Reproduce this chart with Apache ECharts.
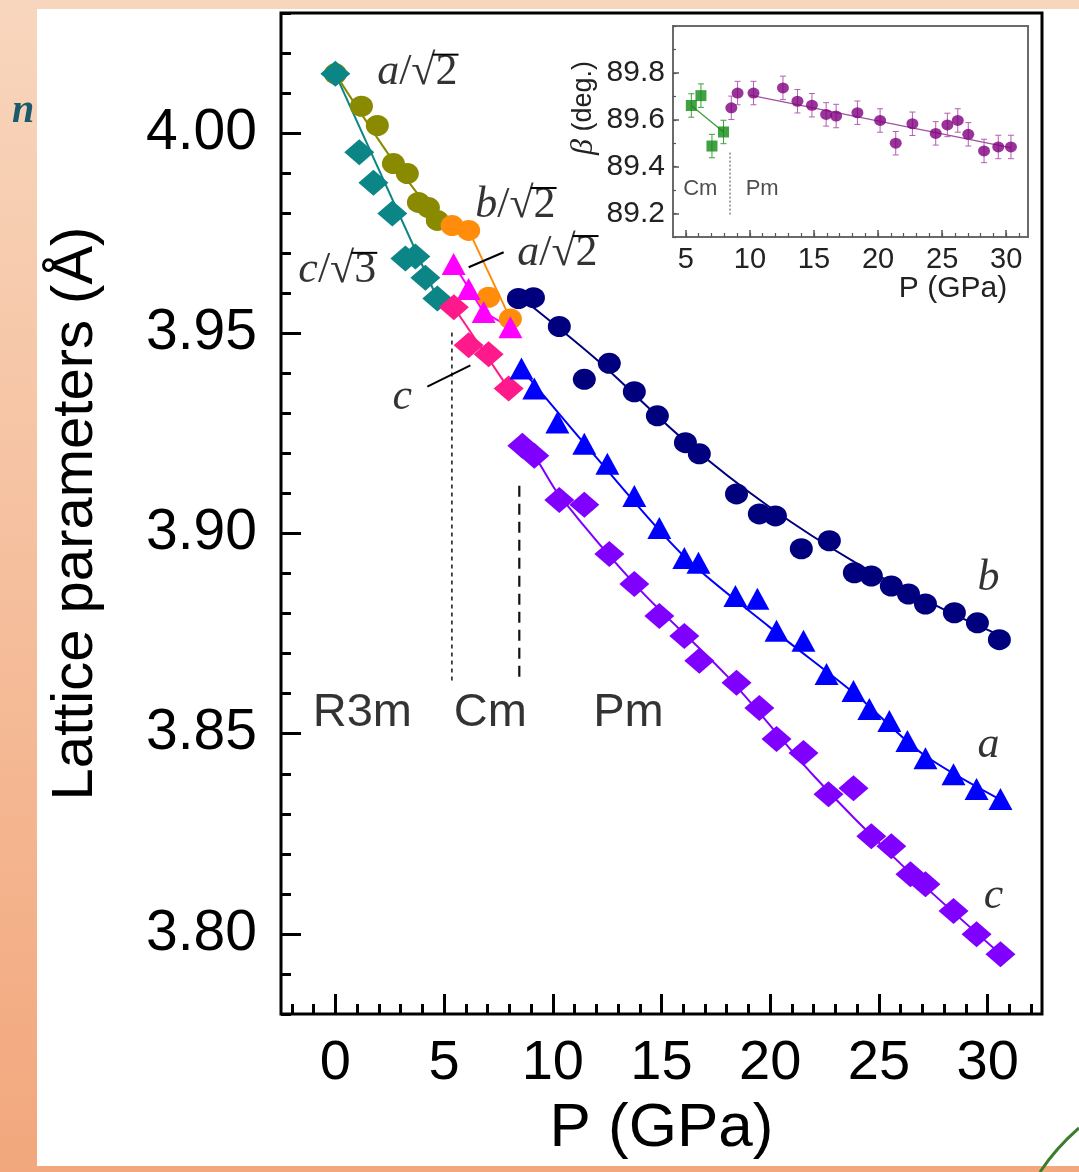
<!DOCTYPE html>
<html>
<head>
<meta charset="utf-8">
<title>Lattice parameters vs pressure</title>
<script src="https://cdn.jsdelivr.net/npm/echarts@6/dist/echarts.min.js"></script>
<style>
html, body { margin: 0; padding: 0; background: #fff; }
#chart { width: 1079px; height: 1172px; }
</style>
</head>
<body>
<div id="chart"></div>
<script>
// ---- main panel : lattice parameters (Å) vs P (GPa) ----

// R3m phase
const r3mC = [[0, 4.0148], [1.10, 3.9952], [1.75, 3.9876], [2.62, 3.9799], [3.22, 3.9687], [3.68, 3.9692], [4.14, 3.9639], [4.69, 3.9587]];
const r3mA = [[0, 4.0148], [1.20, 4.0067], [1.93, 4.0019], [2.67, 3.9924], [3.31, 3.9899], [3.82, 3.9827], [4.28, 3.9814], [4.69, 3.9782]];
const r3mCFit = [[0, 4.0148], [4.75, 3.9580]];
const r3mAFit = [[0, 4.0148], [2.6, 3.9935], [4.9, 3.9770]];

// Cm phase
const cmB = [[5.37, 3.9769], [6.13, 3.9757], [7.05, 3.9590], [8.05, 3.9536]];
const cmA = [[5.44, 3.9673], [6.13, 3.9611], [6.82, 3.9553], [8.05, 3.9515]];
const cmC = [[5.45, 3.9565], [6.13, 3.9470], [7.05, 3.9448], [7.97, 3.9362]];
const cmBFit = [[5.37, 3.9769], [6.13, 3.9757], [8.05, 3.9536]];
const cmAFit = [[5.44, 3.9673], [6.82, 3.9553], [8.05, 3.9515]];
const cmCFit = [[5.45, 3.9565], [7.97, 3.9362]];

// Pm phase
const pmB = [[8.42, 3.9587], [9.11, 3.9589], [10.30, 3.9517], [11.45, 3.9385], [12.60, 3.9425], [13.75, 3.9354],
  [14.81, 3.9294], [16.10, 3.9227], [16.74, 3.9199], [18.45, 3.9099], [19.50, 3.9049], [20.24, 3.9044],
  [21.43, 3.8962], [22.72, 3.8982], [23.87, 3.8902], [24.65, 3.8894], [25.57, 3.8869], [26.36, 3.8849],
  [27.14, 3.8824], [28.47, 3.8802], [29.53, 3.8777], [30.54, 3.8735]];
const pmA = [[8.56, 3.9412], [9.15, 3.9362], [10.21, 3.9277], [11.45, 3.9224], [12.51, 3.9174], [13.75, 3.9094],
  [14.90, 3.9014], [16.05, 3.8939], [16.70, 3.8927], [18.40, 3.8844], [19.41, 3.8837], [20.29, 3.8757],
  [21.53, 3.8732], [22.59, 3.8649], [23.83, 3.8607], [24.56, 3.8562], [25.48, 3.8532], [26.31, 3.8482],
  [27.14, 3.8439], [28.43, 3.8399], [29.49, 3.8362], [30.59, 3.8337]];
const pmC = [[8.60, 3.9219], [9.15, 3.9194], [10.30, 3.9084], [11.45, 3.9072], [12.60, 3.8949], [13.75, 3.8874],
  [14.90, 3.8794], [16.05, 3.8744], [16.74, 3.8682], [18.45, 3.8627], [19.50, 3.8564], [20.29, 3.8487],
  [21.53, 3.8452], [22.68, 3.8349], [23.83, 3.8364], [24.65, 3.8244], [25.57, 3.8219], [26.45, 3.8149],
  [27.14, 3.8124], [28.43, 3.8057], [29.49, 3.7999], [30.59, 3.7949]];
const pmBFit = [[8.4, 3.9595], [12, 3.9435], [16, 3.9235], [20, 3.9065], [24, 3.8925], [28, 3.8810], [30.6, 3.8745]];
const pmAFit = [[8.5, 3.9415], [12, 3.9190], [16, 3.8945], [20, 3.8765], [24, 3.8595], [27, 3.8450], [30.6, 3.8335]];
const pmCFit = [[8.6, 3.9219], [9.15, 3.9194], [10.3, 3.9095], [14, 3.8860], [18, 3.8645], [22, 3.8395], [26, 3.8175], [30.6, 3.7949]];

// phase boundaries
const boundaryR3mCm = [[5.36, 3.9502], [5.36, 3.8632]];
const boundaryCmPm = [[8.46, 3.9119], [8.46, 3.8632]];

// main axes ticks
const xMajorTicks = [0, 5, 10, 15, 20, 25, 30];
const yMajorTicks = [3.80, 3.85, 3.90, 3.95, 4.00];

// ---- inset : beta angle (deg.) ----
const betaCm = [[5.43, 89.661], [6.18, 89.703], [7.04, 89.488], [7.94, 89.548]];
const betaPm = [[8.55, 89.651], [9.04, 89.714], [10.28, 89.714], [12.58, 89.736], [13.71, 89.679], [14.84, 89.662],
  [15.95, 89.623], [16.73, 89.616], [18.39, 89.630], [20.16, 89.597], [21.38, 89.500], [22.68, 89.583],
  [24.50, 89.542], [25.41, 89.578], [26.22, 89.597], [27.04, 89.538], [28.27, 89.467], [29.38, 89.484],
  [30.37, 89.484]];
const betaErr = 0.05;
const betaCmFit = [[5.43, 89.661], [7.94, 89.548]];
const betaPmFit = [[10.0, 89.705], [30.4, 89.480]];
const betaBoundary = [[8.45, 89.46], [8.45, 89.19]];
const insetXTicks = [5, 10, 15, 20, 25, 30];
const insetYTicks = [89.2, 89.4, 89.6, 89.8];

// text annotations, in data coordinates (lead = italic symbol, root = number under the radical)
const mainNotes = [
  { x: 3.77, y: 4.0152, lead: 'a', root: '2' },
  { x: 8.28, y: 3.9819, lead: 'b', root: '2' },
  { x: 10.21, y: 3.9699, lead: 'a', root: '2' },
  { x: 0.09, y: 3.9657, lead: 'c', root: '3' },
  { x: 3.08, y: 3.9339, lead: 'c' },
  { x: 30.04, y: 3.8887, lead: 'b' },
  { x: 30.04, y: 3.8470, lead: 'a' },
  { x: 30.27, y: 3.8094, lead: 'c' }
];
const phaseNotes = [
  { x: 1.24, y: 3.8552, t: 'R3m' },
  { x: 7.13, y: 3.8552, t: 'Cm' },
  { x: 13.48, y: 3.8552, t: 'Pm' }
];
const leaders = [
  [[6.13, 3.9665], [7.74, 3.97025]],
  [[4.23, 3.9367], [6.21, 3.9420]]
];
const insetNotes = [
  { x: 6.13, y: 89.306, t: 'Cm' },
  { x: 10.96, y: 89.306, t: 'Pm' }
];

const SANS = 'Liberation Sans, Arial, sans-serif';
const SERIF = 'Liberation Serif, Times New Roman, serif';
const NOTE_SIZE = 44;
const leadWidth = { a: 0.5, b: 0.5, c: 0.444 };

const minorX = Array.from({ length: 35 }, (_, i) => i - 2);
const minorY = Array.from({ length: 26 }, (_, i) => Number((3.78 + i * 0.01).toFixed(2)));
const minorXi = Array.from({ length: 27 }, (_, i) => i + 5);
const minorYi = Array.from({ length: 10 }, (_, i) => Number((89.1 + i * 0.1).toFixed(1)));

function scatter(name, data, symbol, size, color) {
  return {
    name: name, type: 'scatter', xAxisIndex: 0, yAxisIndex: 0, data: data,
    symbol: symbol, symbolSize: size, itemStyle: { color: color, opacity: 1 }, z: 5
  };
}
function fit(data, color, smooth, xi, yi, width, z) {
  return {
    type: 'line', xAxisIndex: xi || 0, yAxisIndex: yi || 0, data: data, smooth: smooth ? 0.3 : false,
    showSymbol: false, symbol: 'none', lineStyle: { color: color, width: width || 2 }, z: z || 3, silent: true
  };
}
function noteText(n) {
  return n.root ? '{i|' + n.lead + '}{n|/√' + n.root + '}' : '{i|' + n.lead + '}';
}

function renderErr(params, api) {
  const x = api.value(0), y = api.value(1);
  const hi = api.coord([x, y + betaErr]);
  const lo = api.coord([x, y - betaErr]);
  const w = 3;
  const style = { stroke: api.visual('color'), lineWidth: 1 };
  return {
    type: 'group',
    children: [
      { type: 'line', shape: { x1: hi[0], y1: hi[1], x2: lo[0], y2: lo[1] }, style: style },
      { type: 'line', shape: { x1: hi[0] - w, y1: hi[1], x2: hi[0] + w, y2: hi[1] }, style: style },
      { type: 'line', shape: { x1: lo[0] - w, y1: lo[1], x2: lo[0] + w, y2: lo[1] }, style: style }
    ]
  };
}

function valueAxis(grid, min, max, pos) {
  return {
    gridIndex: grid, type: 'value', min: min, max: max, position: pos,
    axisLine: { show: false, onZero: false }, splitLine: { show: false }
  };
}

const chart = echarts.init(document.getElementById('chart'));

const option = {
  animation: false,
  backgroundColor: 'transparent',
  graphic: [
    {
      id: 'bg', type: 'rect', z: -20, shape: { x: 0, y: 0, width: 1079, height: 1172 },
      style: { fill: new echarts.graphic.LinearGradient(0, 0, 0, 1, [
        { offset: 0, color: '#f8d6bd' }, { offset: 1, color: '#f2a77c' }]) }
    },
    { id: 'panel', type: 'rect', z: -19, shape: { x: 37, y: 9, width: 1042, height: 1157 }, style: { fill: '#ffffff' } },
    {
      id: 'edgeLetter', type: 'text', z: 50, x: 12, y: 92,
      style: { text: 'n', font: 'italic bold 40px ' + SERIF, fill: '#1c5a6b' }
    },
    {
      id: 'arc', type: 'bezierCurve', z: 50,
      shape: { x1: 1040, y1: 1172, x2: 1079, y2: 1128, cpx1: 1056, cpy1: 1148 },
      style: { stroke: '#3c7d2c', lineWidth: 3, fill: null }
    },
    {
      id: 'betaName', type: 'text', z: 50, x: 584, y: 108, rotation: Math.PI / 2,
      style: {
        text: '{b|β} (deg.)', align: 'center', verticalAlign: 'middle',
        font: '27px ' + SANS, fill: '#222',
        rich: { b: { fontFamily: SERIF, fontStyle: 'italic', fontSize: 32, fill: '#222' } }
      }
    },
    {
      id: 'insetXName', type: 'text', z: 50, x: 953, y: 289,
      style: { text: 'P (GPa)', align: 'center', verticalAlign: 'middle', font: '30px ' + SANS, fill: '#222' }
    }
  ],
  grid: [
    { left: 281, top: 13, width: 761, height: 1001, show: true, borderColor: '#000', borderWidth: 3, backgroundColor: 'transparent' },
    { left: 673, top: 26, width: 355, height: 211, show: true, borderColor: '#6a6a6a', borderWidth: 2, backgroundColor: '#fff' }
  ],
  xAxis: [
    Object.assign(valueAxis(0, -2.5, 32.5, 'bottom'), {
      axisTick: { inside: true, length: 20, customValues: xMajorTicks, lineStyle: { color: '#000', width: 3 } },
      axisLabel: { customValues: xMajorTicks, fontSize: 56, fontFamily: SANS, color: '#000', margin: 22 },
      name: 'P (GPa)', nameLocation: 'middle', nameGap: 84,
      nameTextStyle: { fontSize: 62, fontFamily: SANS, color: '#000' }
    }),
    Object.assign(valueAxis(0, -2.5, 32.5, 'bottom'), {
      axisLabel: { show: false },
      axisTick: { inside: true, length: 10, customValues: minorX, lineStyle: { color: '#000', width: 3 } }
    }),
    Object.assign(valueAxis(1, 4, 31.7, 'bottom'), {
      axisTick: { inside: true, length: 7, customValues: insetXTicks, lineStyle: { color: '#555', width: 1.5 } },
      axisLabel: { customValues: insetXTicks, fontSize: 29, fontFamily: SANS, color: '#222', margin: 8 }
    }),
    Object.assign(valueAxis(1, 4, 31.7, 'bottom'), {
      axisLabel: { show: false },
      axisTick: { inside: true, length: 4, customValues: minorXi, lineStyle: { color: '#555', width: 1.2 } }
    })
  ],
  yAxis: [
    Object.assign(valueAxis(0, 3.78, 4.03, 'left'), {
      axisTick: { inside: true, length: 20, customValues: yMajorTicks, lineStyle: { color: '#000', width: 3 } },
      axisLabel: { customValues: yMajorTicks, formatter: v => v.toFixed(2), fontSize: 57, fontFamily: SANS, color: '#000', margin: 24 },
      name: 'Lattice parameters (Å)', nameLocation: 'middle', nameGap: 176, nameRotate: 90,
      nameTextStyle: { fontSize: 58, fontFamily: SANS, color: '#000' }
    }),
    Object.assign(valueAxis(0, 3.78, 4.03, 'left'), {
      axisLabel: { show: false },
      axisTick: { inside: true, length: 10, customValues: minorY, lineStyle: { color: '#000', width: 3 } }
    }),
    Object.assign(valueAxis(1, 89.1, 90.0, 'left'), {
      axisTick: { inside: true, length: 6, customValues: insetYTicks, lineStyle: { color: '#555', width: 1.5 } },
      axisLabel: { customValues: insetYTicks, formatter: v => v.toFixed(1), fontSize: 30, fontFamily: SANS, color: '#222', margin: 8 }
    }),
    Object.assign(valueAxis(1, 89.1, 90.0, 'left'), {
      axisLabel: { show: false },
      axisTick: { inside: true, length: 3, customValues: minorYi, lineStyle: { color: '#555', width: 1.2 } }
    })
  ],
  series: [
    // fit / guide lines
    fit(r3mCFit, '#0b8585'),
    fit(r3mAFit, '#8a8a00', true),
    fit(cmBFit, '#ff8c0a'),
    fit(cmAFit, '#ff00ff'),
    fit(cmCFit, '#ff1a8c'),
    fit(pmBFit, '#00007f', true),
    fit(pmAFit, '#0000ff', true),
    fit(pmCFit, '#7f00ff', true),
    // phase boundaries
    {
      type: 'line', data: boundaryR3mCm, symbol: 'none', silent: true, z: 2,
      lineStyle: { color: '#222', width: 1.6, type: [4, 4] }
    },
    {
      type: 'line', data: boundaryCmPm, symbol: 'none', silent: true, z: 2,
      lineStyle: { color: '#111', width: 2.2, type: [11, 7] }
    },
    // leader lines
    fit(leaders[0], '#000', false, 0, 0, 2, 6),
    fit(leaders[1], '#000', false, 0, 0, 2, 6),
    // data points
    scatter('R3m a/√2', r3mA, 'circle', [23, 21], '#8a8a00'),
    scatter('R3m c/√3', r3mC, 'diamond', [30, 26], '#0b8585'),
    scatter('Cm b/√2', cmB, 'circle', [23, 21], '#ff8c0a'),
    scatter('Cm a/√2', cmA, 'triangle', [24, 22], '#ff00ff'),
    scatter('Cm c', cmC, 'diamond', [30, 26], '#ff1a8c'),
    scatter('Pm b', pmB, 'circle', [23, 21], '#00007f'),
    scatter('Pm a', pmA, 'triangle', [24, 22], '#0000ff'),
    scatter('Pm c', pmC, 'diamond', [30, 26], '#7f00ff'),
    // annotations
    {
      type: 'scatter', silent: true, z: 8, symbolSize: 1, itemStyle: { color: 'rgba(0,0,0,0)' },
      data: mainNotes.map(n => ({ value: [n.x, n.y], label: { formatter: noteText(n) } })),
      label: {
        show: true, position: 'inside', color: '#000',
        rich: {
          i: { fontFamily: SERIF, fontStyle: 'italic', fontSize: NOTE_SIZE, color: '#000' },
          n: { fontFamily: SERIF, fontSize: NOTE_SIZE, color: '#000' }
        }
      }
    },
    {
      type: 'scatter', silent: true, z: 8, symbolSize: 1, itemStyle: { color: 'rgba(0,0,0,0)' },
      data: phaseNotes.map(n => ({ value: [n.x, n.y], label: { formatter: n.t } })),
      label: { show: true, position: 'inside', color: '#000', fontFamily: SANS, fontSize: 47 }
    },
    // inset
    fit(betaCmFit, '#3a9a3a', false, 2, 2, 1.2, 3),
    fit(betaPmFit, '#a050a0', false, 2, 2, 1.2, 3),
    {
      type: 'line', xAxisIndex: 2, yAxisIndex: 2, data: betaBoundary, symbol: 'none', silent: true,
      lineStyle: { color: '#666', width: 1.2, type: [2, 2] }
    },
    {
      type: 'custom', xAxisIndex: 2, yAxisIndex: 2, data: betaCm, renderItem: renderErr,
      itemStyle: { color: '#3aa03a' }, z: 4, silent: true
    },
    {
      type: 'custom', xAxisIndex: 2, yAxisIndex: 2, data: betaPm, renderItem: renderErr,
      itemStyle: { color: '#b060b0' }, z: 4, silent: true
    },
    {
      type: 'scatter', xAxisIndex: 2, yAxisIndex: 2, data: betaCm, symbol: 'rect', symbolSize: 11,
      itemStyle: { color: '#138a13' }, z: 5
    },
    {
      type: 'scatter', xAxisIndex: 2, yAxisIndex: 2, data: betaPm, symbol: 'circle', symbolSize: [12, 11],
      itemStyle: { color: '#800080' }, z: 5
    },
    {
      type: 'scatter', xAxisIndex: 2, yAxisIndex: 2, silent: true, z: 8, symbolSize: 1,
      itemStyle: { color: 'rgba(0,0,0,0)' },
      data: insetNotes.map(n => ({ value: [n.x, n.y], label: { formatter: n.t } })),
      label: { show: true, position: 'inside', fontFamily: SANS, fontSize: 22, color: '#222' }
    }
  ]
};

chart.setOption(option);

// vinculum over the number under each radical sign
const bars = [];
mainNotes.forEach((n, k) => {
  if (!n.root) return;
  const p = chart.convertToPixel({ xAxisIndex: 0, yAxisIndex: 0 }, [n.x, n.y]);
  const w = (leadWidth[n.lead] + 0.278 + 0.549 + 0.5) * NOTE_SIZE;
  const x1 = p[0] - w / 2 + (leadWidth[n.lead] + 0.278 + 0.549) * NOTE_SIZE - 3;
  const x2 = p[0] + w / 2 + 1;
  const y = p[1] - 0.40 * NOTE_SIZE;
  bars.push({
    id: 'bar' + k, type: 'line', z: 60,
    shape: { x1: x1, y1: y, x2: x2, y2: y },
    style: { stroke: '#000', lineWidth: 2 }
  });
});
chart.setOption({ graphic: bars });
</script>
</body>
</html>
